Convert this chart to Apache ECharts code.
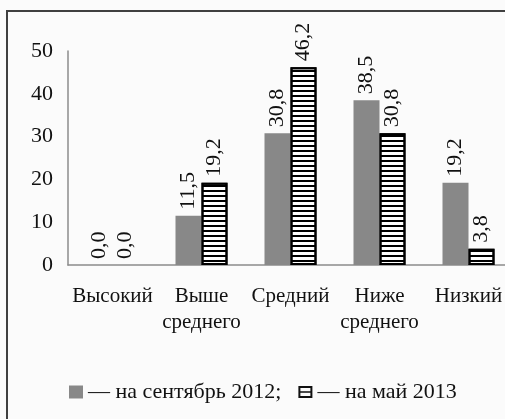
<!DOCTYPE html>
<html>
<head>
<meta charset="utf-8">
<script src="https://cdn.jsdelivr.net/npm/echarts@6/dist/echarts.min.js"></script>
<style>
html,body{margin:0;padding:0;background:#fbfbfb;}
#chart{width:505px;height:419px;}
</style>
</head>
<body>
<div id="chart"></div>
<script>
const categories = ['Высокий', 'Выше\nсреднего', 'Средний', 'Ниже\nсреднего', 'Низкий'];
const seriesNames = ['— на сентябрь 2012;', '— на май 2013'];
const sep2012 = [0.0, 11.5, 30.8, 38.5, 19.2];
const may2013 = [0.0, 19.2, 46.2, 30.8, 3.8];
const yTicks = [0, 10, 20, 30, 40, 50];

const FONT = '"Liberation Serif", "Times New Roman", serif';
const fmt = p => Number(p.value).toFixed(1).replace('.', ',');

const labelCfg = {
  show: true,
  position: 'top',
  rotate: 90,
  align: 'left',
  verticalAlign: 'middle',
  distance: 6,
  fontFamily: FONT,
  fontSize: 22,
  color: '#111',
  formatter: fmt
};

const chart = echarts.init(document.getElementById('chart'), null, {renderer: 'canvas'});
chart.setOption({
  backgroundColor: '#fbfbfb',
  animation: false,
  graphic: [{
    type: 'rect',
    shape: {x: 7, y: 11, width: 700, height: 700},
    style: {fill: 'none', stroke: '#404040', lineWidth: 2},
    silent: true,
    z: -1
  }],
  grid: {left: 68, top: 51, width: 445, height: 214, containLabel: false, outerBoundsMode: 'none'},
  legend: {
    left: 69,
    top: 381,
    padding: 0,
    itemWidth: 14,
    itemHeight: 13,
    itemGap: 17,
    textStyle: {fontFamily: FONT, fontSize: 22, color: '#111'},
    data: [
      {name: seriesNames[0], icon: 'rect', itemStyle: {color: '#888888', borderWidth: 0, decal: 'none'}},
      {name: seriesNames[1], icon: 'path://M0,0H14V12H0Z M2,2V10H12V2Z M2,5.2H12V6.8H2Z',
       itemStyle: {color: '#111111', borderWidth: 0, decal: 'none'}}
    ]
  },
  xAxis: {
    type: 'category',
    data: categories,
    axisLine: {show: true, lineStyle: {color: '#8c8c8c', width: 1.5}},
    axisTick: {show: false},
    axisLabel: {interval: 0, margin: 18, fontFamily: FONT, fontSize: 21, lineHeight: 26, color: '#111'}
  },
  yAxis: {
    type: 'value',
    min: yTicks[0],
    max: yTicks[yTicks.length - 1],
    interval: yTicks[1] - yTicks[0],
    axisLine: {show: true, lineStyle: {color: '#8c8c8c', width: 1.5}},
    axisTick: {show: false},
    splitLine: {show: false},
    axisLabel: {margin: 15, fontFamily: FONT, fontSize: 22, color: '#111'}
  },
  series: [
    {
      name: seriesNames[0],
      type: 'bar',
      data: sep2012,
      barWidth: 26,
      barGap: '0%',
      itemStyle: {color: '#888888'},
      label: labelCfg
    },
    {
      name: seriesNames[1],
      type: 'bar',
      data: may2013.map(v => v === 0 ? {value: v, itemStyle: {borderWidth: 0}} : v),
      barWidth: 26,
      barGap: '0%',
      itemStyle: {
        color: '#ffffff',
        borderColor: '#000000',
        borderWidth: 2,
        decal: {
          symbol: 'rect',
          symbolSize: 1,
          color: '#000000',
          dashArrayX: [1, 0],
          dashArrayY: [1.7, 2.7],
          rotation: 0
        }
      },
      label: labelCfg
    }
  ]
});
</script>
</body>
</html>
